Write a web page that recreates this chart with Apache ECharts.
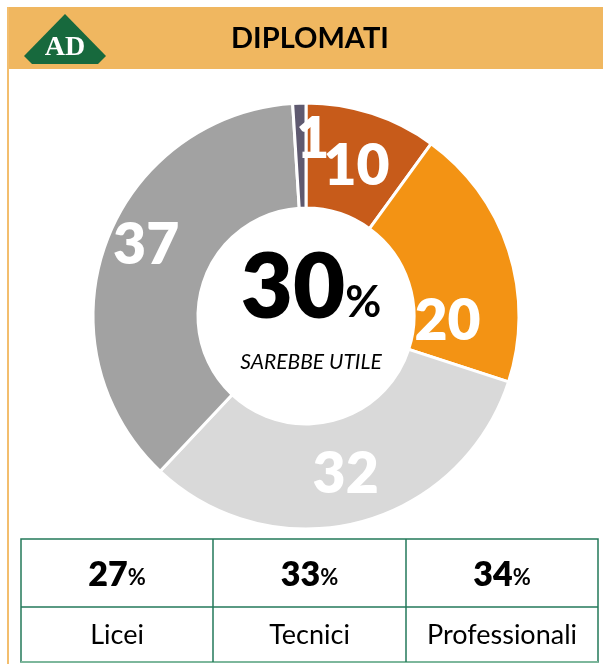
<!DOCTYPE html>
<html>
<head>
<meta charset="utf-8">
<script src="https://cdn.jsdelivr.net/npm/echarts@6/dist/echarts.min.js"></script>
<style>
html,body{margin:0;padding:0;background:#fff;}
#chart{width:603px;height:664px;}
</style>
</head>
<body>
<div id="chart"></div>
<script>
// ---- data ----
const title = 'DIPLOMATI';
const categories = ['Quota 1', 'Quota 2', 'Quota 3', 'Quota 4', 'Quota 5'];
const values = [10, 20, 32, 37, 1];
const centerValue = 30;
const centerLabel = 'SAREBBE UTILE';
const schoolTypes = ['Licei', 'Tecnici', 'Professionali'];
const schoolValues = [27, 33, 34];

// ---- styles ----
const colors = ['#C75B1A', '#F39314', '#D9D9D9', '#A2A2A2', '#5F5A70'];
const labelShift = [[0, 6], [-14, 56], [-1, 0], [-6, -15], [12, -13]];
const FONT = 'Lato, "Open Sans", sans-serif';
const HEAVY = 800;
const BAND = '#F0B760';
const GREEN = '#23795A';

const chart = echarts.init(document.getElementById('chart'), null, {renderer: 'canvas'});

// table graphics
const tX = [21, 213, 406, 598];
const tY = [539, 607, 662];
const tableEls = [];
tableEls.push({type: 'rect', shape: {x: tX[0], y: tY[0], width: tX[3] - tX[0], height: tY[2] - tY[0]},
  style: {fill: 'none', stroke: GREEN, lineWidth: 1.5}, z: 5});
tableEls.push({type: 'line', shape: {x1: tX[0], y1: tY[2], x2: tX[3], y2: tY[2]}, style: {stroke: '#7DB79C', lineWidth: 2}, z: 5});
tableEls.push({type: 'line', shape: {x1: tX[0], y1: tY[1], x2: tX[3], y2: tY[1]}, style: {stroke: GREEN, lineWidth: 1.5}, z: 5});
tableEls.push({type: 'line', shape: {x1: tX[1], y1: tY[0], x2: tX[1], y2: tY[2]}, style: {stroke: GREEN, lineWidth: 1.5}, z: 5});
tableEls.push({type: 'line', shape: {x1: tX[2], y1: tY[0], x2: tX[2], y2: tY[2]}, style: {stroke: GREEN, lineWidth: 1.5}, z: 5});
schoolTypes.forEach((name, i) => {
  const cx = (tX[i] + tX[i + 1]) / 2;
  tableEls.push({type: 'text', x: cx, y: (tY[0] + tY[1]) / 2 + 2, z: 6,
    style: {text: '{v|' + schoolValues[i] + '}{p|%}', align: 'center', verticalAlign: 'middle',
      rich: {v: {fontFamily: FONT, fontWeight: HEAVY, fontSize: 34, fill: '#000', verticalAlign: 'bottom'},
             p: {fontFamily: FONT, fontWeight: 'bold', fontSize: 22, fill: '#000', verticalAlign: 'bottom', padding: [0, 0, 3, 0]}}}});
  tableEls.push({type: 'text', x: cx, y: (tY[1] + tY[2]) / 2 + 1, z: 6,
    style: {text: name, align: 'center', verticalAlign: 'middle', fontFamily: FONT, fontSize: 27, fill: '#000'}});
});

const option = {
  backgroundColor: '#fff',
  animation: false,
  graphic: [
    {type: 'rect', shape: {x: 7, y: 7, width: 596, height: 62}, style: {fill: BAND}, z: 1},
    {type: 'rect', shape: {x: 7, y: 7, width: 2, height: 657}, style: {fill: '#F3BE6E'}, z: 1},
    {type: 'polygon', shape: {points: [[65, 14], [24, 56], [32, 64], [98, 64], [106, 56]]}, style: {fill: '#17693D'}, z: 2},
    {type: 'text', x: 65, y: 48, z: 3, style: {text: 'AD', align: 'center', verticalAlign: 'middle',
      fontFamily: '"Liberation Serif", "DejaVu Serif", serif', fontWeight: 'bold', fontSize: 28, fill: '#fff'}},
    {type: 'text', x: 310, y: 39, z: 3, style: {text: title, align: 'center', verticalAlign: 'middle',
      fontFamily: FONT, fontWeight: 'bold', fontSize: 29, fill: '#000'}},
    {type: 'text', x: 311, y: 289, z: 20, style: {text: '{v|' + centerValue + '}{p|%}', align: 'center', verticalAlign: 'middle',
      rich: {v: {fontFamily: FONT, fontWeight: HEAVY, fontSize: 90, fill: '#000', verticalAlign: 'bottom'},
             p: {fontFamily: FONT, fontWeight: 'bold', fontSize: 44, fill: '#000', verticalAlign: 'bottom', padding: [0, 0, 9, 0]}}}},
    {type: 'text', x: 311, y: 362, z: 20, style: {text: centerLabel, align: 'center', verticalAlign: 'middle',
      fontFamily: FONT, fontStyle: 'italic', fontSize: 21, fill: '#000'}}
  ].concat(tableEls),
  series: [{
    type: 'pie',
    center: [306, 316],
    radius: [108, 213],
    startAngle: 90,
    clockwise: true,
    avoidLabelOverlap: false,
    itemStyle: {borderColor: '#fff', borderWidth: 3},
    label: {show: true, position: 'inside', color: '#fff', fontFamily: FONT, fontWeight: HEAVY, fontSize: 57,
      formatter: p => String(p.value)},
    labelLine: {show: false},
    labelLayout: p => ({dx: labelShift[p.dataIndex][0], dy: labelShift[p.dataIndex][1]}),
    emphasis: {disabled: true},
    data: categories.map((c, i) => ({name: c, value: values[i], itemStyle: {color: colors[i]}}))
  }]
};
chart.setOption(option);
</script>
</body>
</html>
